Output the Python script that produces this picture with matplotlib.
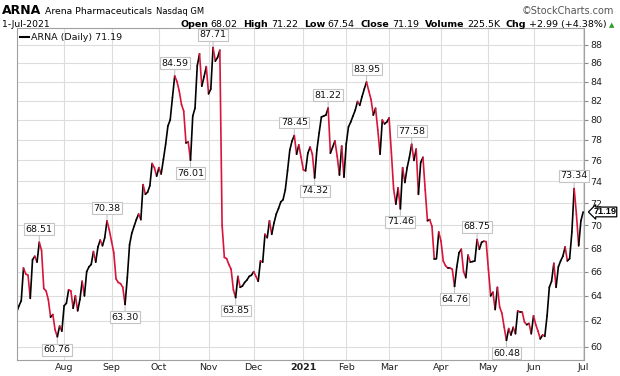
import matplotlib
matplotlib.use("Agg")
import matplotlib.pyplot as plt
import matplotlib.transforms as mtransforms
from matplotlib.collections import LineCollection
from matplotlib.ticker import NullLocator, FixedLocator, FixedFormatter
import numpy as np
import pandas as pd

# daily closes, 2-Jul-2020 .. 1-Jul-2021
closes = [
    62.7, 63.2, 63.6, 66.3, 65.8, 65.7, 63.8, 67.0, 67.3, 66.8,
    68.51, 67.8, 64.6, 64.4, 63.7, 62.3, 62.5, 61.3, 60.76, 61.6,
    61.2, 63.2, 63.4, 64.5, 64.4, 63.0, 64.0, 62.8, 63.7, 65.2,
    64.0, 66.0, 66.4, 66.6, 67.7, 66.8, 68.1, 68.7, 68.2, 68.9,
    70.38, 69.6, 68.6, 67.6, 65.4, 65.1, 65.0, 64.7, 63.30, 65.5,
    68.3, 69.3, 69.9, 70.5, 71.0, 70.5, 73.7, 72.8, 73.0, 73.6,
    75.7, 75.3, 74.5, 75.3, 74.7, 76.1, 77.6, 79.4, 80.0, 82.3,
    84.59, 84.0, 83.0, 81.6, 80.9, 77.7, 77.8, 76.01, 80.4, 81.2,
    85.7, 87.0, 83.5, 84.5, 85.6, 82.7, 83.2, 87.71, 86.2, 86.6,
    87.4, 70.0, 67.2, 67.1, 66.6, 66.2, 64.5, 63.85, 65.6, 64.7,
    64.8, 65.1, 65.3, 65.6, 65.7, 66.0, 65.6, 65.2, 66.9, 66.8,
    69.2, 68.9, 70.4, 69.2, 70.2, 71.0, 71.5, 72.1, 72.3, 73.2,
    75.0, 77.0, 77.9, 78.45, 76.6, 77.5, 76.3, 75.1, 75.0, 76.7,
    77.3, 76.6, 74.32, 77.0, 78.7, 80.3, 80.4, 80.5, 81.22, 76.7,
    77.3, 77.9, 76.4, 74.6, 77.4, 74.4, 77.6, 79.3, 79.8, 80.4,
    81.0, 81.9, 81.5, 82.4, 83.2, 83.95, 83.0, 82.1, 80.5, 81.2,
    79.0, 76.6, 80.0, 79.6, 79.8, 80.2, 76.8, 73.3, 71.9, 73.4,
    71.46, 75.3, 73.9, 75.3, 76.3, 77.58, 76.0, 77.1, 72.8, 75.8,
    76.3, 73.2, 70.4, 70.5, 69.9, 67.1, 67.1, 69.4, 68.6, 66.9,
    66.5, 66.3, 66.3, 66.2, 64.76, 66.4, 67.6, 67.9, 66.0, 65.5,
    67.4, 66.8, 66.85, 66.9, 68.75, 67.9, 68.5, 68.6, 68.55, 66.2,
    64.0, 64.3, 62.9, 64.7, 63.1, 62.6, 61.5, 60.48, 61.4, 60.9,
    61.5, 61.0, 62.8, 62.7, 62.7, 61.9, 61.7, 61.8, 61.0, 62.4,
    61.7, 61.2, 60.6, 60.9, 60.8, 62.4, 64.7, 65.2, 66.7, 64.7,
    66.4, 66.9, 67.3, 68.1, 66.9, 67.1, 69.4, 73.34, 71.0, 68.2,
    70.4, 71.19,
]
holidays = ["2020-07-03", "2020-09-07", "2020-11-26", "2020-12-25", "2021-01-01",
            "2021-01-18", "2021-02-15", "2021-04-02", "2021-05-31"]

# labelled swing points: (day index, above/below)
swing_idx = [10, 18, 40, 48, 70, 77, 87, 97, 123, 132, 138, 155, 170, 175, 194, 204, 217, 247]
swing_up = [True, False, True, False, True, False, True, False, True, False, True, True,
            False, True, False, True, False, True]

month_names = ["Aug", "Sep", "Oct", "Nov", "Dec", "2021", "Feb", "Mar", "Apr", "May", "Jun", "Jul"]
y_ticks = list(range(60, 90, 2))

dates = pd.bdate_range("2020-07-02", "2021-07-01")
dates = dates[~dates.isin(pd.to_datetime(holidays))]
closes = np.array(closes)
x = np.arange(len(closes))

month_pos = []
for i in range(1, len(dates)):
    if dates[i].month != dates[i - 1].month:
        month_pos.append(i)

RED = "#d9143a"
GRID = "#dddddd"
FRAME = "#a0a0a0"
plt.rcParams["font.family"] = "DejaVu Sans"

fig = plt.figure(figsize=(6.2, 3.76), dpi=100)
ax = fig.add_axes([16.5 / 620, 1 - 360 / 376, (584.3 - 16.5) / 620, (360 - 28) / 376])

ax.set_yscale("log")
ax.set_ylim(59.0, 89.9)
ax.set_xlim(-0.1, 251.5)

ax.yaxis.tick_right()
ax.yaxis.set_major_locator(FixedLocator(y_ticks))
ax.yaxis.set_major_formatter(FixedFormatter([str(v) for v in y_ticks]))
ax.yaxis.set_minor_locator(NullLocator())
ax.tick_params(axis="y", which="major", direction="out", length=3, width=0.8,
               color="#888888", labelsize=6.8, pad=1.5, labelcolor="#222222")

ax.set_xticks(month_pos)
ax.set_xticklabels(month_names)
ax.tick_params(axis="x", direction="out", length=0, labelsize=6.8, pad=2, labelcolor="#222222")
for lbl in ax.get_xticklabels():
    if lbl.get_text() == "2021":
        lbl.set_fontweight("bold")

ax.grid(True, color=GRID, lw=0.8)
ax.set_axisbelow(True)
for s in ax.spines.values():
    s.set_color(FRAME)
    s.set_linewidth(0.8)

# price line, red on down days
pts = np.column_stack([x, closes]).reshape(-1, 1, 2)
segs = np.concatenate([pts[:-1], pts[1:]], axis=1)
cols = [RED if closes[i + 1] < closes[i] else "black" for i in range(len(closes) - 1)]
lc = LineCollection(segs, colors=cols, linewidths=1.2, capstyle="round", joinstyle="round")
ax.add_collection(lc)

# swing labels
for i, up in zip(swing_idx, swing_up):
    v = closes[i]
    off = 6 if up else -6
    ax.annotate("%.2f" % v, xy=(i, v), xytext=(0, off), textcoords="offset points",
                ha="center", va="bottom" if up else "top", fontsize=6.8, color="#111111",
                bbox=dict(boxstyle="square,pad=0.15", fc="white", ec="#c4c4c4", lw=0.8),
                arrowprops=dict(arrowstyle="-", color="#c4c4c4", lw=0.8, shrinkA=0, shrinkB=1),
                zorder=5)

# legend
ax.plot([0.006, 0.022], [0.972, 0.972], transform=ax.transAxes, color="black", lw=1.5)
ax.text(0.026, 0.972, "ARNA (Daily) 71.19", transform=ax.transAxes, fontsize=6.8,
        va="center", ha="left", color="#111111")

# last price tag
trans = mtransforms.blended_transform_factory(ax.transAxes, ax.transData)
ax.text(1.016, closes[-1], "%.2f" % closes[-1], transform=trans, fontsize=6.6,
        family="Liberation Sans", fontweight="bold", va="center", ha="left", clip_on=False,
        bbox=dict(boxstyle="larrow,pad=0.04", fc="white", ec="black", lw=0.9), zorder=6)

# header
renderer = fig.canvas.get_renderer()


def row(parts, x0, y0, align="left"):
    texts = []
    gaps = []
    for s, size, weight, color, gap in parts:
        t = fig.text(0, 1 - y0 / 376, s, fontsize=size, fontweight=weight, color=color,
                     va="baseline", ha="left")
        texts.append(t)
        gaps.append(gap)
    widths = [t.get_window_extent(renderer).width for t in texts]
    total = sum(widths) + sum(gaps[:-1])
    cur = x0 if align == "left" else x0 - total
    for t, w, g in zip(texts, widths, gaps):
        t.set_x(cur / 620)
        cur += w + g


row([("ARNA", 9.0, "bold", "black", 4),
     ("Arena Pharmaceuticals", 6.7, "normal", "black", 4),
     ("Nasdaq GM", 6.0, "normal", "black", 0)], 2, 14)
fig.text(614 / 620, 1 - 14 / 376, "\u00a9StockCharts.com", fontsize=7, color="#555555",
         ha="right", va="baseline")
fig.text(2 / 620, 1 - 27 / 376, "1-Jul-2021", fontsize=6.7, color="black", va="baseline")
fs = 6.8
row([("Open", fs, "bold", "black", 2.5), ("68.02", fs, "normal", "black", 6),
     ("High", fs, "bold", "black", 2.5), ("71.22", fs, "normal", "black", 6),
     ("Low", fs, "bold", "black", 2.5), ("67.54", fs, "normal", "black", 6),
     ("Close", fs, "bold", "black", 2.5), ("71.19", fs, "normal", "black", 6),
     ("Volume", fs, "bold", "black", 2.5), ("225.5K", fs, "normal", "black", 6),
     ("Chg", fs, "bold", "black", 2.5), ("+2.99 (+4.38%)", fs, "normal", "black", 2),
     ("\u25b2", 5.0, "normal", "#2a9d2a", 0)], 614, 27, align="right")

fig.savefig("out.png", dpi=100)
